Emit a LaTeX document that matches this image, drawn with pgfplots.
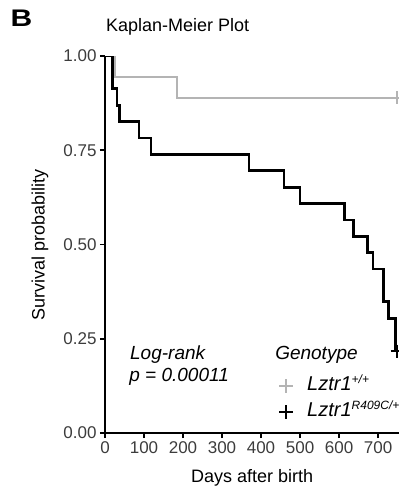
\documentclass[border=0pt]{standalone}
\usepackage{fontspec}
\setmainfont{Liberation Sans}
\usepackage{graphicx}
\usepackage{pgfplots}
\pgfplotsset{compat=1.18}
\definecolor{wtgray}{RGB}{180,180,180}
\definecolor{ticktext}{RGB}{60,60,60}
\newcommand{\sups}[1]{\textsuperscript{\fontsize{12}{12}\selectfont\itshape #1}}
\begin{document}
\begin{tikzpicture}
\begin{axis}[
 name=ax,
 scale only axis,
 width=294.5pt, height=377pt,
 xmin=0, xmax=755, ymin=0, ymax=1,
 axis lines=left,
 axis line style={-, line width=1.6pt, black},
 xtick={0,100,...,700},
 ytick={0,0.25,0.5,0.75,1},
 yticklabels={0.00,0.25,0.50,0.75,1.00},
 tick align=outside,
 major tick length=5pt,
 tick style={line width=1.6pt, black},
 /pgf/number format/assume math mode=true,
 tick label style={font=\fontsize{17}{19}\selectfont, text=ticktext},
 xlabel={Days after birth},
 ylabel={Survival probability},
 label style={font=\fontsize{18}{20}\selectfont},
 xlabel style={at={(axis description cs:0.5,-0.119)}, anchor=center},
 ylabel style={at={(axis description cs:-0.2207,0.5)}, anchor=center},
 title={Kaplan-Meier Plot},
 title style={at={(axis description cs:0.003,1.061)}, anchor=west, yshift=0pt, inner sep=0pt, font=\fontsize{18}{20}\selectfont},
 legend cell align=left,
 legend image code/.code={\draw[#1] plot coordinates {(9pt,0pt)}; \path[draw=none] (0pt,0pt) (30pt,0pt);},
 legend style={at={(axis cs:441,0.147)}, anchor=north west, draw=none, fill=none,
   inner sep=0pt, row sep=9pt, font=\fontsize{20}{22}\selectfont,
   nodes={inner xsep=0pt, inner ysep=0pt, text height=13pt, text depth=4pt}},
]
\addlegendimage{only marks, mark=+, mark size=7pt, wtgray, line width=1.6pt}
\addlegendentry{\textit{Lztr1}\sups{+/+}}
\addlegendimage{only marks, mark=+, mark size=7pt, black, line width=2.2pt}
\addlegendentry{\textit{Lztr1}\sups{R409C/+}}

\addplot[const plot, wtgray, line width=2pt, forget plot] coordinates {
 (0,1) (25,0.9444) (184,0.8889) (749,0.8889)};
\addplot[only marks, mark=+, mark size=6.5pt, wtgray, line width=1.5pt, forget plot] coordinates {(749,0.8889)};
\addplot[const plot, black, line width=2.8pt, forget plot] coordinates {
 (0,1) (20,0.9130) (31,0.8696) (38,0.8261) (87,0.7826) (118,0.7391)
 (369,0.6957) (459,0.6522) (500,0.6087) (613,0.5652) (638,0.5217)
 (672,0.4783) (687,0.4348) (713,0.3478) (726,0.3043) (744,0.2174) (749,0.2174)};
\addplot[only marks, mark=+, mark size=6.5pt, black, line width=1.8pt, forget plot] coordinates {(749,0.2174)};

\node[anchor=base west, inner sep=0pt, font=\itshape\fontsize{19}{21}\selectfont] at (axis cs:64,0.194) {Log-rank};
\node[anchor=base west, inner sep=0pt, font=\itshape\fontsize{19}{21}\selectfont] at (axis cs:62,0.136) {p = 0.00011};
\node[anchor=base west, inner sep=0pt, font=\itshape\fontsize{19}{21}\selectfont] at (axis cs:436,0.194) {Genotype};
\end{axis}
\node[anchor=center, inner sep=0pt, font=\bfseries\fontsize{24}{24}\selectfont] at ([shift={(-83.5pt,414.5pt)}]ax.south west) {\scalebox{1.25}[1]{B}};
\pgfresetboundingbox
\path ([shift={(-105pt,-58pt)}]ax.south west) rectangle ([shift={(294pt,433pt)}]ax.south west);
\end{tikzpicture}
\end{document}
